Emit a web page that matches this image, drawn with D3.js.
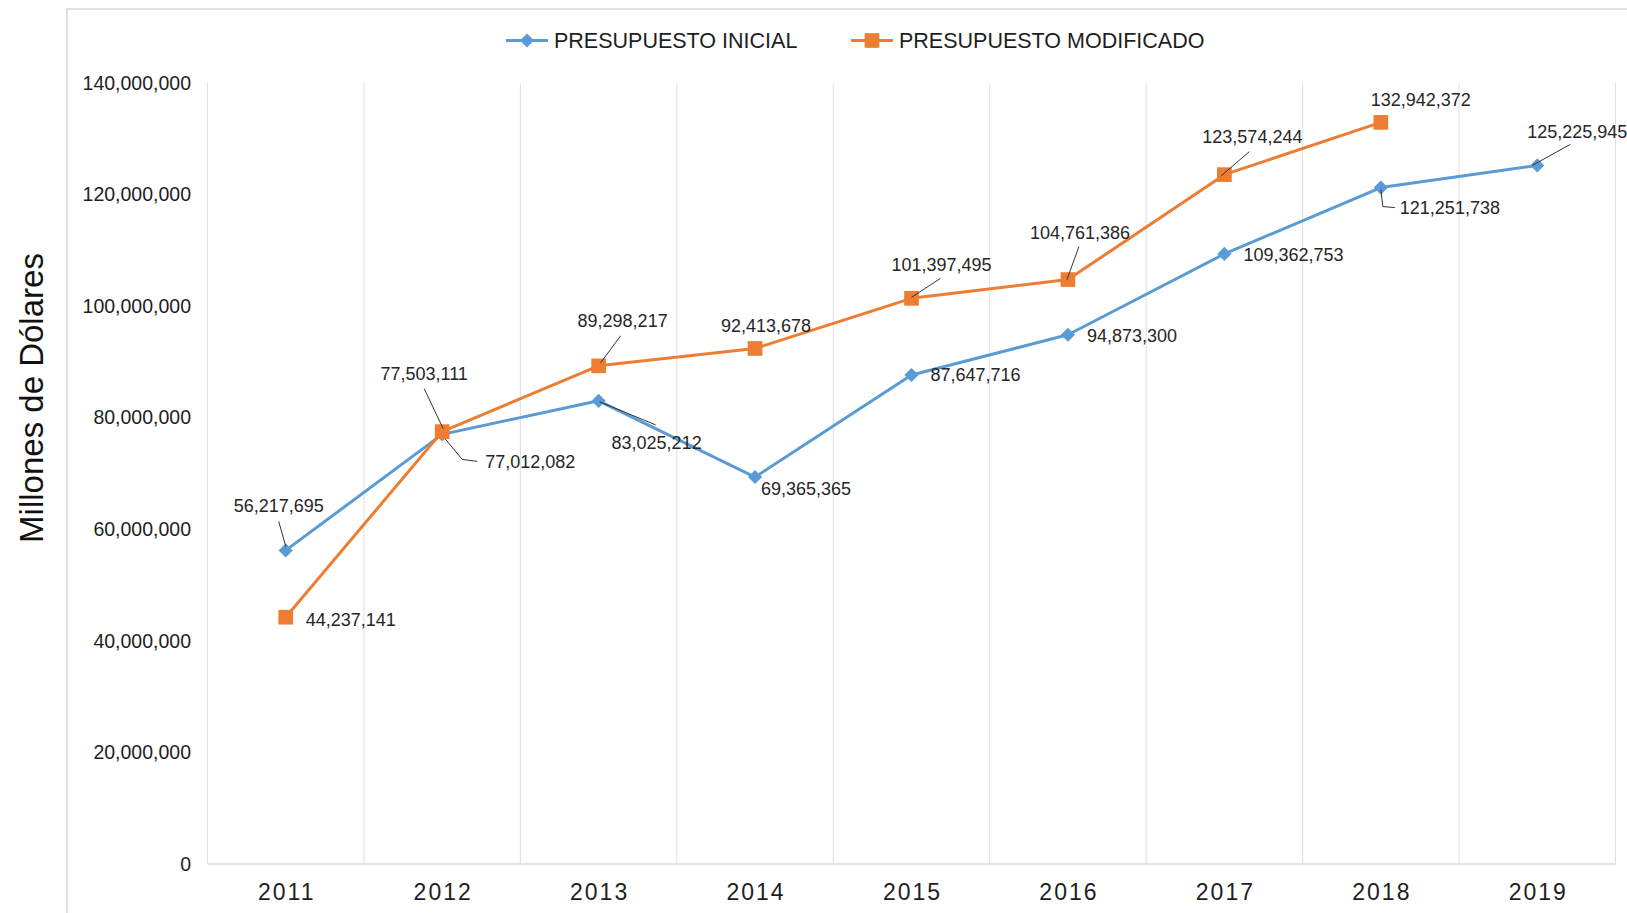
<!DOCTYPE html>
<html>
<head>
<meta charset="utf-8">
<script src="https://cdn.jsdelivr.net/npm/d3@7"></script>
<style>
  body { margin: 0; background: #fff; }
  svg { display: block; font-family: "Liberation Sans", Arial, sans-serif; }
</style>
</head>
<body>
<svg id="chart" width="1627" height="913"></svg>
<script>
// data
var years = ['2011', '2012', '2013', '2014', '2015', '2016', '2017', '2018', '2019'];
var inicial = [56217695, 77012082, 83025212, 69365365, 87647716, 94873300, 109362753, 121251738, 125225945];
var modificado = [44237141, 77503111, 89298217, 92413678, 101397495, 104761386, 123574244, 132942372];
var yTicks = [0, 20000000, 40000000, 60000000, 80000000, 100000000, 120000000, 140000000];
var seriesNames = ['PRESUPUESTO INICIAL', 'PRESUPUESTO MODIFICADO'];

// label placement (pixel offsets from each point)
var labInicial = [
  {dx: -7, dy: -45, a: 'middle', lead: [[-7, -29], [0, -4]]},
  {dx: 43, dy: 27, a: 'start', lead: [[1, 2], [20, 25], [35, 27]]},
  {dx: 58, dy: 42, a: 'middle', lead: [[1, 1], [57, 24]]},
  {dx: 6, dy: 12, a: 'start'},
  {dx: 19, dy: 0, a: 'start'},
  {dx: 19, dy: 1, a: 'start'},
  {dx: 19, dy: 1, a: 'start'},
  {dx: 19, dy: 20, a: 'start', lead: [[0, 2], [2, 19], [14, 20]]},
  {dx: -10, dy: -34, a: 'start', lead: [[-5, 0], [33, -21]]}
];
var labMod = [
  {dx: 20, dy: 2, a: 'start'},
  {dx: -18, dy: -58, a: 'middle', lead: [[-18, -43], [1, -3]]},
  {dx: 24, dy: -45, a: 'middle', lead: [[22, -30], [2, -3]]},
  {dx: 11, dy: -23, a: 'middle'},
  {dx: 30, dy: -34, a: 'middle', lead: [[29, -20], [0, -1]]},
  {dx: 12, dy: -47, a: 'middle', lead: [[11, -33], [-1, 0]]},
  {dx: 28, dy: -38, a: 'middle', lead: [[25, -23], [-3, 1]]},
  {dx: 40, dy: -23, a: 'middle'}
];

var blue = '#5b9bd5', orange = '#ed7d31';
var svg = d3.select('#chart');
var pLeft = 207.5, pRight = 1615.5, pTop = 83, pBottom = 864;

// outer border
svg.append('rect')
  .attr('x', 67).attr('y', 9)
  .attr('width', 1600).attr('height', 950)
  .attr('fill', 'none')
  .attr('stroke', '#d9d9d9')
  .attr('stroke-width', 1.5);

var x = d3.scaleBand().domain(years).range([pLeft, pRight]).padding(0);
var y = d3.scaleLinear().domain([0, 140000000]).range([pBottom, pTop]);
var cx = function(i) { return x(years[i]) + x.bandwidth() / 2; };

// vertical gridlines at category edges
var edges = years.map(function(d) { return x(d); }).concat([pRight]);
svg.append('g').selectAll('line')
  .data(edges)
  .enter()
  .append('line')
  .attr('x1', function(d) { return d; })
  .attr('x2', function(d) { return d; })
  .attr('y1', pTop).attr('y2', pBottom)
  .attr('stroke', '#e0e0e0')
  .attr('stroke-width', 1);

// baseline
svg.append('line')
  .attr('x1', pLeft).attr('x2', pRight)
  .attr('y1', pBottom).attr('y2', pBottom)
  .attr('stroke', '#d9d9d9')
  .attr('stroke-width', 1.5);

// y axis
var yAxis = svg.append('g')
  .attr('transform', 'translate(' + pLeft + ',0)')
  .call(d3.axisLeft(y).tickValues(yTicks).tickFormat(d3.format(',')).tickSize(0).tickPadding(16.5));
yAxis.select('.domain').remove();
yAxis.selectAll('text')
  .style('font-size', '19.5px')
  .attr('fill', '#1e1e1e');

// x axis
var xAxis = svg.append('g')
  .attr('transform', 'translate(0,' + pBottom + ')')
  .call(d3.axisBottom(x).tickSize(0).tickPadding(20));
xAxis.select('.domain').remove();
xAxis.selectAll('text')
  .style('font-size', '23px')
  .style('letter-spacing', '2px')
  .attr('dx', 1)
  .attr('fill', '#1e1e1e');

// axis title
svg.append('text')
  .attr('transform', 'translate(31,398) rotate(-90)')
  .attr('text-anchor', 'middle')
  .attr('dy', '0.35em')
  .style('font-size', '33px')
  .attr('fill', '#111')
  .text('Millones de Dólares');

var diamond = d3.symbol().type(d3.symbolSquare).size(100);
var square = d3.symbol().type(d3.symbolSquare).size(215);

function drawSeries(vals, color, isDiamond, labels) {
  var line = d3.line()
    .x(function(d, i) { return cx(i); })
    .y(function(d) { return y(d); });

  svg.append('path')
    .datum(vals)
    .attr('d', line)
    .attr('fill', 'none')
    .attr('stroke', color)
    .attr('stroke-width', 3)
    .attr('stroke-linejoin', 'round');

  svg.append('g').selectAll('path')
    .data(vals)
    .enter()
    .append('path')
    .attr('d', isDiamond ? diamond : square)
    .attr('transform', function(d, i) {
      return 'translate(' + cx(i) + ',' + y(d) + ')' + (isDiamond ? ' rotate(45)' : '');
    })
    .attr('fill', color);

  // leader lines
  var leads = [];
  vals.forEach(function(d, i) {
    if (labels[i].lead) {
      leads.push(labels[i].lead.map(function(p) { return [cx(i) + p[0], y(d) + p[1]]; }));
    }
  });
  svg.append('g').selectAll('polyline')
    .data(leads)
    .enter()
    .append('polyline')
    .attr('points', function(p) { return p.join(' '); })
    .attr('fill', 'none')
    .attr('stroke', '#333')
    .attr('stroke-width', 1);

  svg.append('g').selectAll('text')
    .data(vals)
    .enter()
    .append('text')
    .attr('x', function(d, i) { return cx(i) + labels[i].dx; })
    .attr('y', function(d, i) { return y(d) + labels[i].dy; })
    .attr('dy', '0.35em')
    .attr('text-anchor', function(d, i) { return labels[i].a; })
    .style('font-size', '18px')
    .attr('fill', '#262626')
    .text(function(d) { return d3.format(',')(d); });
}

drawSeries(inicial, blue, true, labInicial);
drawSeries(modificado, orange, false, labMod);

// legend
var legend = [
  {name: seriesNames[0], color: blue, sym: diamond, rot: true, x: 506},
  {name: seriesNames[1], color: orange, sym: square, rot: false, x: 851}
];
var lg = svg.append('g').selectAll('g')
  .data(legend)
  .enter()
  .append('g')
  .attr('transform', function(d) { return 'translate(' + d.x + ',40.5)'; });
lg.append('line')
  .attr('x1', 0).attr('x2', 42)
  .attr('stroke', function(d) { return d.color; })
  .attr('stroke-width', 3);
lg.append('path')
  .attr('d', function(d) { return d.sym(); })
  .attr('transform', function(d) { return 'translate(21,0)' + (d.rot ? ' rotate(45)' : ''); })
  .attr('fill', function(d) { return d.color; });
lg.append('text')
  .attr('x', 48)
  .attr('dy', '0.35em')
  .style('font-size', '21.5px')
  .attr('fill', '#1e1e1e')
  .text(function(d) { return d.name; });
</script>
</body>
</html>
